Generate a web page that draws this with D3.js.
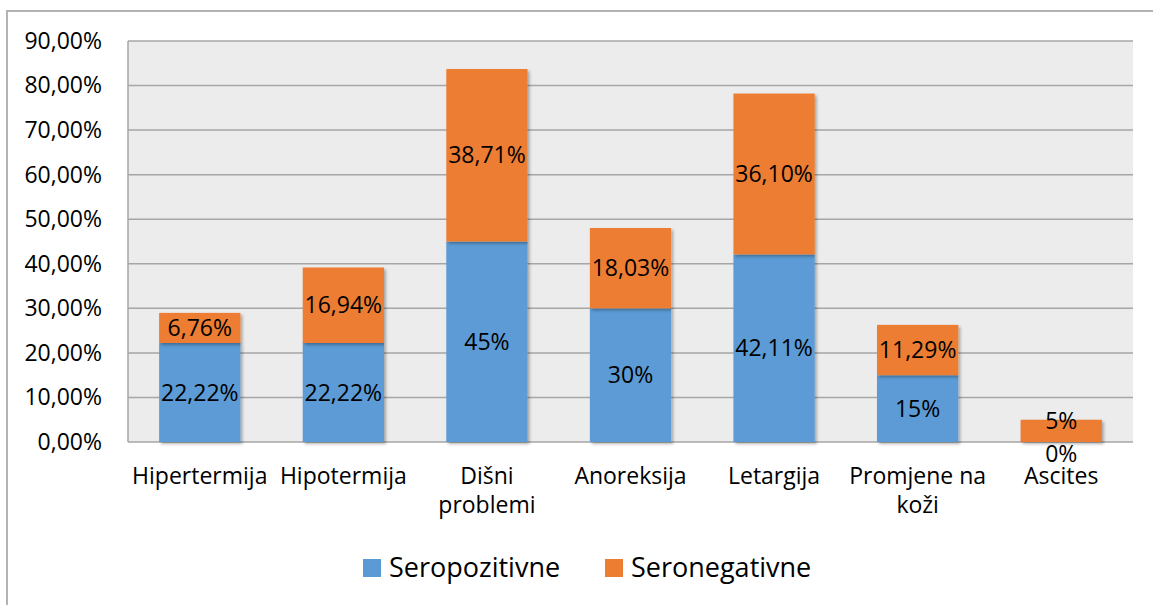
<!DOCTYPE html>
<html>
<head>
<meta charset="utf-8">
<script src="https://cdn.jsdelivr.net/npm/d3@7"></script>
<style>
  body { margin: 0; background: #fff; }
  text { font-family: "Open Sans", "Noto Sans", sans-serif; fill: #000; }
</style>
</head>
<body>
<div id="chart"></div>
<script>
var categories = [["Hipertermija"], ["Hipotermija"], ["Dišni", "problemi"], ["Anoreksija"], ["Letargija"], ["Promjene na", "koži"], ["Ascites"]];
var seroPos = [22.22, 22.22, 45, 30, 42.11, 15, 0];
var seroNeg = [6.76, 16.94, 38.71, 18.03, 36.10, 11.29, 5];
var posLabels = ["22,22%", "22,22%", "45%", "30%", "42,11%", "15%", "0%"];
var negLabels = ["6,76%", "16,94%", "38,71%", "18,03%", "36,10%", "11,29%", "5%"];
var yTicks = [0, 10, 20, 30, 40, 50, 60, 70, 80, 90];
var seriesNames = ["Seropozitivne", "Seronegativne"];
var colors = ["#5b9bd5", "#ed7d31"];

var width = 1153, height = 605;
var margin = {left: 128, top: 41, right: 20, bottom: 163};

var svg = d3.select("#chart").append("svg")
    .attr("width", width)
    .attr("height", height);

// drop shadow for bars
var defs = svg.append("defs");
var filt = defs.append("filter").attr("id", "shadow")
    .attr("x", "-10%").attr("y", "-10%").attr("width", "130%").attr("height", "130%");
filt.append("feDropShadow")
    .attr("dx", 2).attr("dy", 2).attr("stdDeviation", 1.8)
    .attr("flood-color", "#000").attr("flood-opacity", 0.3);

// outer frame (only left and top edges visible)
svg.append("rect")
    .attr("x", 7).attr("y", 11)
    .attr("width", 1200).attr("height", 700)
    .attr("fill", "none")
    .attr("stroke", "#b3b3b3")
    .attr("stroke-width", 2);

var plotW = 1133 - margin.left;
var plotH = 442 - margin.top;

var g = svg.append("g")
    .attr("transform", "translate(" + margin.left + "," + margin.top + ")");

var x = d3.scaleBand()
    .domain(d3.range(categories.length))
    .range([0, plotW])
    .paddingInner(0.434)
    .paddingOuter(0.217);

var y = d3.scaleLinear()
    .domain([0, 90])
    .range([plotH, 0]);

g.append("rect")
    .attr("width", plotW)
    .attr("height", plotH)
    .attr("fill", "#ececec");

// gridlines
g.append("g")
    .selectAll("line")
    .data(yTicks.slice(1))
    .enter().append("line")
    .attr("x1", 0).attr("x2", plotW)
    .attr("y1", function(d) { return y(d); })
    .attr("y2", function(d) { return y(d); })
    .attr("stroke", "#a6a6a6")
    .attr("stroke-width", 1.5);

// left and bottom axis lines
g.append("line")
    .attr("x1", 0).attr("x2", 0).attr("y1", 0).attr("y2", plotH)
    .attr("stroke", "#a6a6a6").attr("stroke-width", 1.5);
g.append("line")
    .attr("x1", 0).attr("x2", plotW).attr("y1", plotH).attr("y2", plotH)
    .attr("stroke", "#a6a6a6").attr("stroke-width", 1.5);

// y axis labels
var yAxis = d3.axisLeft(y)
    .tickValues(yTicks)
    .tickSize(0)
    .tickPadding(26)
    .tickFormat(function(d) { return d3.format(".2f")(d).replace(".", ",") + "%"; });

var yG = g.append("g").call(yAxis);
yG.select(".domain").remove();
yG.selectAll("text")
    .style("font-size", "23px")
    .style("font-family", "'Open Sans', sans-serif");

// stacked data
var rows = categories.map(function(c, i) {
    return {i: i, pos: seroPos[i], neg: seroNeg[i]};
});
var stack = d3.stack().keys(["pos", "neg"]);
var stacked = stack(rows);

var layers = g.selectAll(".layer")
    .data(stacked)
    .enter().append("g")
    .attr("class", "layer")
    .attr("fill", function(d, k) { return colors[k]; });

layers.selectAll("rect")
    .data(function(d) { return d; })
    .enter().append("rect")
    .attr("x", function(d) { return x(d.data.i); })
    .attr("y", function(d) { return y(d[1]); })
    .attr("width", x.bandwidth())
    .attr("height", function(d) { return y(d[0]) - y(d[1]); })
    .attr("filter", "url(#shadow)");

// value labels
var labelSets = [posLabels, negLabels];
layers.each(function(layer, k) {
    d3.select(this).selectAll("text")
        .data(layer)
        .enter().append("text")
        .attr("x", function(d) { return x(d.data.i) + x.bandwidth() / 2; })
        .attr("y", function(d) {
            var yc = (y(d[0]) + y(d[1])) / 2;
            var h = y(d[0]) - y(d[1]);
            if (h === 0) return yc + 12;
            if (h < 30) return yc - 10;
            return yc;
        })
        .attr("text-anchor", "middle")
        .attr("dy", "0.35em")
        .style("font-size", "23px")
        .text(function(d, i) { return labelSets[k][i]; });
});

// category labels
var xG = g.append("g")
    .attr("transform", "translate(0," + plotH + ")");
xG.selectAll("text")
    .data(categories)
    .enter().append("text")
    .attr("x", function(d, i) { return x(i) + x.bandwidth() / 2; })
    .attr("y", 42)
    .attr("text-anchor", "middle")
    .style("font-size", "23px")
    .each(function(d) {
        var t = d3.select(this);
        d.forEach(function(line, j) {
            t.append("tspan")
                .attr("x", t.attr("x"))
                .attr("dy", j === 0 ? 0 : 29)
                .text(line);
        });
    });

// legend
var legend = svg.append("g");
var legendX = [363, 605];
seriesNames.forEach(function(name, k) {
    legend.append("rect")
        .attr("x", legendX[k]).attr("y", 559)
        .attr("width", 18).attr("height", 18)
        .attr("fill", colors[k]);
    legend.append("text")
        .attr("x", legendX[k] + 26).attr("y", 568)
        .attr("dy", "0.35em")
        .style("font-size", "27px")
        .text(name);
});
</script>
</body>
</html>
